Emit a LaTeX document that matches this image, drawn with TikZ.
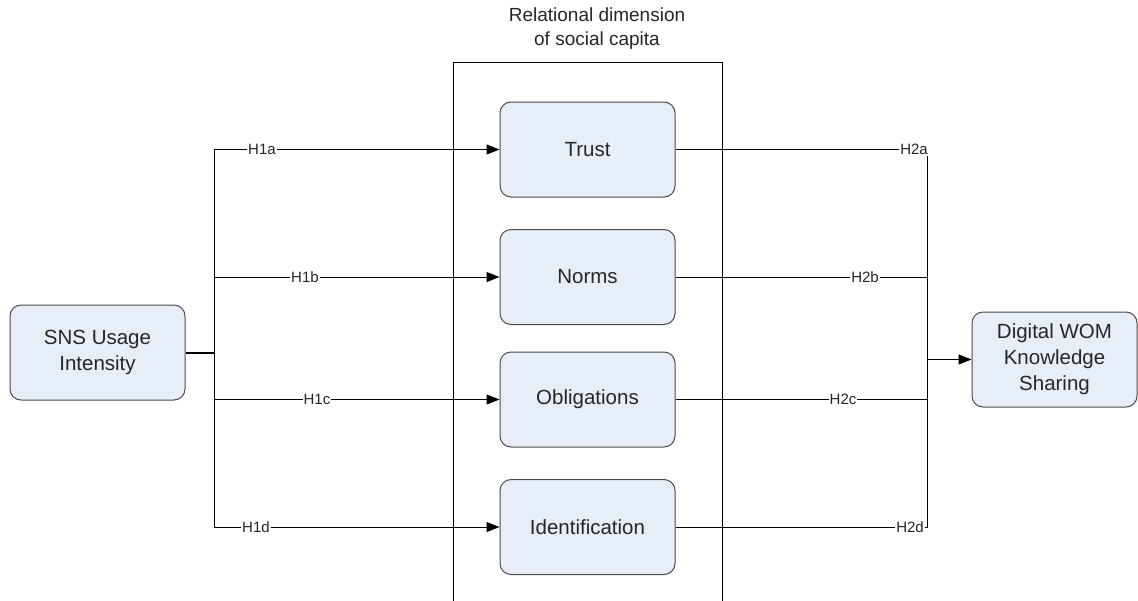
\documentclass[tikz,border=0pt]{standalone}
\usepackage{fontspec}
\setmainfont{Liberation Sans}
\usetikzlibrary{arrows.meta}
\definecolor{boxfill}{HTML}{E8EEF8}
\definecolor{boxline}{HTML}{4A4A4A}
\definecolor{txt}{HTML}{262626}
\tikzset{
  construct/.style={draw=boxline, fill=boxfill, rounded corners=11pt, line width=1pt,
    minimum width=175pt, minimum height=95pt, align=center, text=txt,
    font=\fontsize{20.5}{26}\selectfont, inner sep=0pt},
  hyp/.style={fill=white, inner sep=1pt, text=txt, font=\fontsize{15}{16}\selectfont},
  link/.style={line width=1pt, draw=black},
  arr/.style={link, -{Triangle[length=13pt,width=10pt]}},
}
\begin{document}
\begin{tikzpicture}[x=1pt,y=-1pt]
\useasboundingbox (0,0) rectangle (1138,600);
\clip (0,0) rectangle (1138,600);

% group frame and its heading
\draw[line width=1pt] (453,62) rectangle (722,620);
\node[align=center, text=txt, font=\fontsize{19}{24}\selectfont] (title) at (597,29)
  {Relational dimension\\of social capita};

% constructs
\node[construct] (sns) at (97.5,352.5) {SNS Usage\\Intensity};
\node[construct] (trust) at (587.5,149.5) {Trust};
\node[construct] (norms) at (587.5,277) {Norms};
\node[construct] (oblig) at (587.5,399.5) {Obligations};
\node[construct] (ident) at (587.5,527) {Identification};
\node[construct, minimum width=165pt] (dwom) at (1054.5,359.5) {Digital WOM\\Knowledge\\Sharing};

% branching points
\coordinate (lsplit) at (214,352.5);
\coordinate (ltop) at (214,149.5);
\coordinate (lbot) at (214,527);
\coordinate (rtop) at (927,149.5);
\coordinate (rbot) at (927,527);
\coordinate (rjoin) at (927,359.5);

% left fan-out
\draw[link, line width=2pt] (sns.east) -- (lsplit);
\draw[link] (ltop) -- (lbot);
\draw[arr] (ltop) -- (trust.west);
\draw[arr] (lsplit |- norms) -- (norms.west);
\draw[arr] (lsplit |- oblig) -- (oblig.west);
\draw[arr] (lbot) -- (ident.west);

% right fan-in
\draw[link] (trust.east) -- (rtop) -- (rbot) -- (ident.east);
\draw[link] (norms.east) -- (rtop |- norms);
\draw[link] (oblig.east) -- (rtop |- oblig);
\draw[arr, line width=1.5pt] (rjoin) -- (dwom.west);

% hypothesis labels
\node[hyp] (h1a) at (262,149.5) {H1a};
\node[hyp] (h1b) at (305,277) {H1b};
\node[hyp] (h1c) at (317,399.5) {H1c};
\node[hyp] (h1d) at (256,527) {H1d};
\node[hyp, anchor=east] (h2a) at (929,149.5) {H2a};
\node[hyp] (h2b) at (865,277) {H2b};
\node[hyp] (h2c) at (843,399.5) {H2c};
\node[hyp, anchor=east] (h2d) at (925,527) {H2d};
\end{tikzpicture}
\end{document}
